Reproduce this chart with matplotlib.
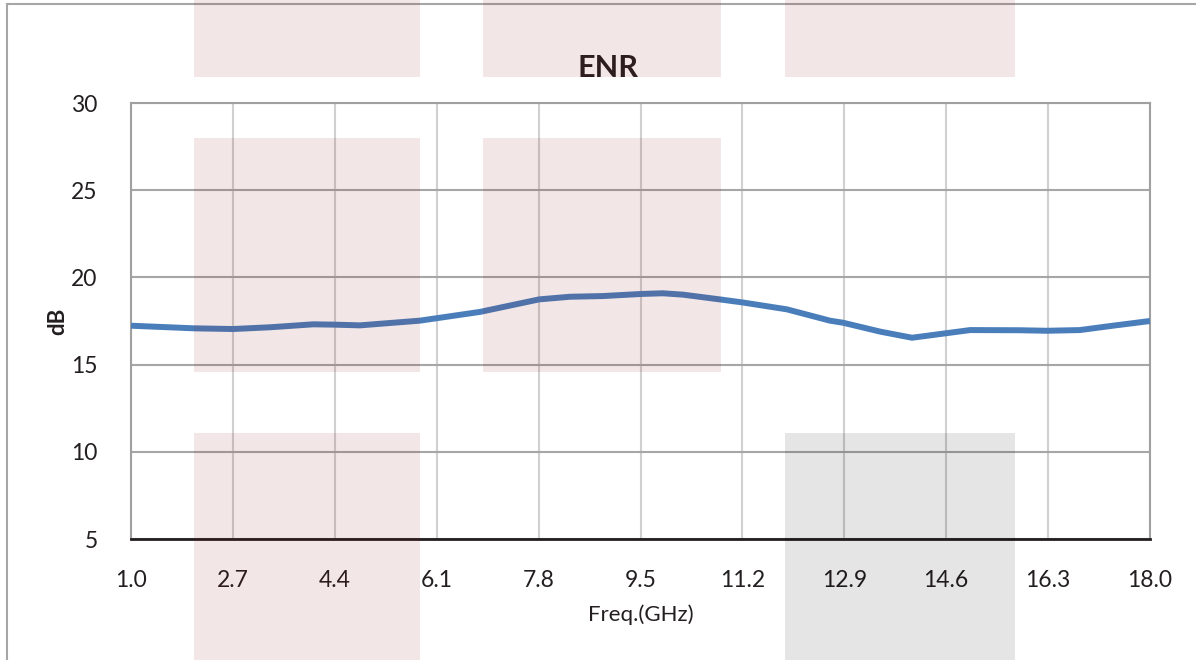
import matplotlib
matplotlib.use("Agg")
import matplotlib.pyplot as plt
from matplotlib.patches import Rectangle

# ── Dane ──────────────────────────────────────────────────────────────────
freq = [1.0, 2.05, 2.7, 3.32, 4.04, 4.4, 4.82, 5.82, 6.82, 7.81, 8.32, 8.87,
        9.51, 9.87, 10.21, 10.82, 11.19, 11.94, 12.66, 12.88, 13.5, 14.03,
        14.58, 15.0, 15.83, 16.28, 16.83, 17.38, 18.0]
enr = [17.23, 17.08, 17.04, 17.14, 17.31, 17.29, 17.25, 17.52, 18.02, 18.74,
       18.89, 18.93, 19.05, 19.09, 19.01, 18.74, 18.57, 18.17, 17.52, 17.40,
       16.89, 16.54, 16.79, 16.98, 16.97, 16.94, 16.98, 17.23, 17.50]
x_ticks = [1.0, 2.7, 4.4, 6.1, 7.8, 9.5, 11.2, 12.9, 14.6, 16.3, 18.0]
y_ticks = [5, 10, 15, 20, 25, 30]

W, H = 1196, 660
TXT = '#231f20'
plt.rcParams['font.family'] = ['Lato', 'DejaVu Sans']

fig = plt.figure(figsize=(W / 100, H / 100), dpi=100)
ax = fig.add_axes([131 / W, (H - 539) / H, 1019 / W, 436 / H])

ax.plot(freq, enr, color='#4a7ebb', lw=4.3, solid_capstyle='butt',
        solid_joinstyle='round', zorder=3)

ax.set_xlim(1.0, 18.0)
ax.set_ylim(5, 30)
ax.set_xticks(x_ticks)
ax.set_xticklabels([f"{v:.1f}" for v in x_ticks])
ax.set_yticks(y_ticks)
ax.tick_params(length=0, labelsize=16.5, labelcolor=TXT)
ax.tick_params(axis='y', pad=24)
ax.tick_params(axis='x', pad=22)

ax.grid(True, axis='y', color='#a6a6a6', lw=1.5)
ax.grid(True, axis='x', color='#d0d0d0', lw=1.5)
ax.set_axisbelow(True)
for side in ('left', 'top', 'right'):
    ax.spines[side].set_color('#a0a0a0')
    ax.spines[side].set_linewidth(1.5)
ax.spines['bottom'].set_color('#231f20')
ax.spines['bottom'].set_linewidth(2)

ax.set_xlabel("Freq.(GHz)", fontsize=16, color=TXT, labelpad=10)
ax.set_ylabel("dB", fontsize=16, fontweight='bold', color=TXT, labelpad=2)
fig.text(608 / W, 1 - 77 / H, "ENR", fontsize=22, fontweight='bold',
         color=TXT, ha='center', va='baseline')

# ramka wykresu (wychodzi poza prawą i dolną krawędź)
fig.add_artist(Rectangle((6.5 / W, -0.1), 1.2, 1 - 4.3 / H + 0.1,
                         transform=fig.transFigure, fill=False,
                         edgecolor='#a6a6a6', lw=1.5, zorder=1))

# półprzezroczyste prostokąty tła (efekt "multiply")
pink = (135 / 255, 15 / 255, 15 / 255)
cols = [(194, 420), (483, 721), (785, 1015)]
rows = [(0, 77), (138, 372), (433, 660)]
cells = [(0, 0, pink), (1, 0, pink), (2, 0, pink),
         (0, 1, pink), (1, 1, pink),
         (0, 2, pink), (2, 2, 'black')]
for c, r, col in cells:
    x0, x1 = cols[c]
    y0, y1 = rows[r]
    fig.add_artist(Rectangle((x0 / W, 1 - y1 / H), (x1 - x0) / W, (y1 - y0) / H,
                             transform=fig.transFigure, facecolor=col,
                             edgecolor='none', alpha=0.1, zorder=10))

fig.savefig("out.png", dpi=100)
